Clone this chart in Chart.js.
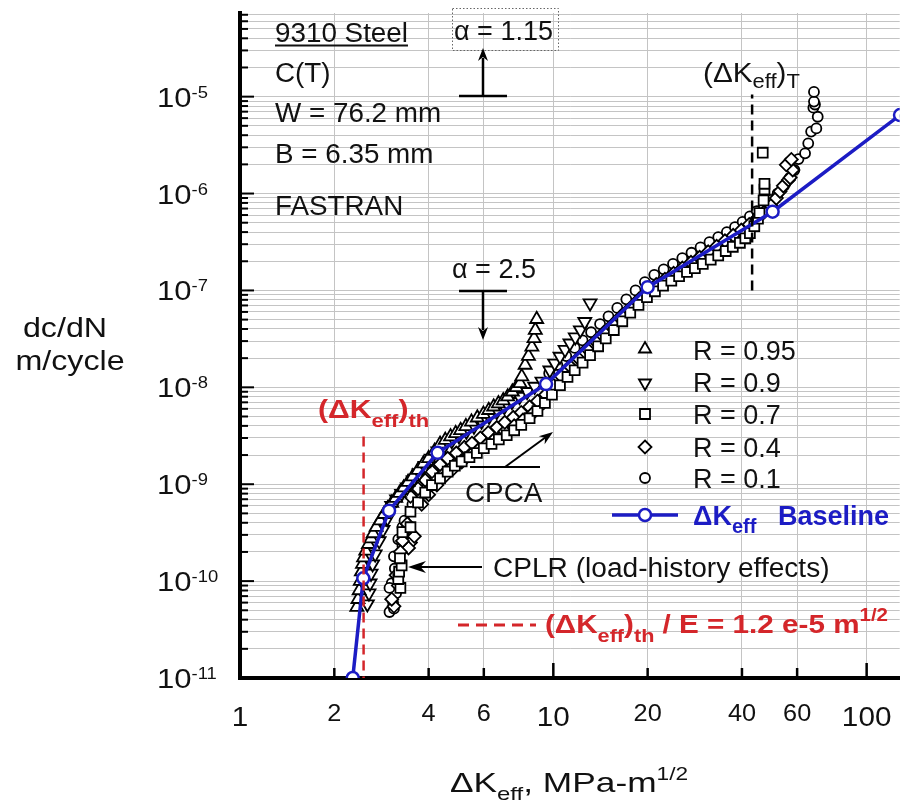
<!DOCTYPE html>
<html lang="en">
<head>
  <meta charset="UTF-8" />
  <title>9310 Steel - dc/dN vs Delta K eff</title>
  <script src="https://cdn.jsdelivr.net/npm/chart.js"></script>
  <style>
    html, body { margin: 0; padding: 0; background: #fff; }
    #wrap { width: 909px; height: 809px; }
  </style>
</head>
<body>
  <div id="wrap"><canvas id="crackChart" width="909" height="809"></canvas></div>

  <script>
    // ---- axes ----
    const xMin = 1, xMax = 127.5;
    const yMin = 1e-11, yMax = 7.3e-5;
    const xGridVals = [2, 4, 6, 10, 20, 40, 60, 100];
    const xLabelVals = [1, 2, 4, 6, 10, 20, 40, 60, 100];
    const xLabels = ['1', '2', '4', '6', '10', '20', '40', '60', '100'];
    const yExponents = [-11, -10, -9, -8, -7, -6, -5];
    const yLabels = ['-11', '-10', '-9', '-8', '-7', '-6', '-5'];

    // ---- FASTRAN baseline (dK eff, dc/dN) ----
    const baseDK = [2.29, 2.475, 2.99, 4.27, 9.48, 20.0, 50.1, 127.8];
    const baseRate = [1.0e-11, 1.07e-10, 5.33e-10, 2.11e-9, 1.08e-8, 1.08e-7, 6.49e-7, 6.46e-6];

    // threshold and transition markers
    const thDK = [2.48, 2.48];
    const thRate = [3.1e-9, 1.0e-11];
    const trDK = [43.1, 43.1];
    const trRate = [1.0e-7, 1.05e-5];

    // ---- test data ----
    const dk95 = [2.36, 2.38, 2.40, 2.42, 2.44, 2.46, 2.48, 2.52, 2.57, 2.62, 2.66, 2.72, 2.80, 2.88, 2.96, 3.05, 3.14,
      3.23, 3.33, 3.44, 3.56, 3.70, 3.85, 4.00, 4.18, 4.35, 4.52, 4.70, 4.88, 5.06, 5.26, 5.48, 5.72, 5.98, 6.22, 6.45,
      6.68, 6.92, 7.15, 7.40, 7.62, 7.83, 7.93, 8.13, 8.33, 8.54, 8.68, 8.76, 8.85];
    const rate95 = [5.4e-11, 6.5e-11, 8.0e-11, 1.0e-10, 1.25e-10, 1.5e-10, 1.75e-10, 2.05e-10, 2.4e-10, 2.75e-10, 3.1e-10,
      3.6e-10, 4.2e-10, 4.9e-10, 5.6e-10, 6.4e-10, 7.2e-10, 8.1e-10, 9.2e-10, 1.05e-9, 1.2e-9, 1.4e-9, 1.63e-9, 1.85e-9,
      2.2e-9, 2.6e-9, 2.85e-9, 3.1e-9, 3.35e-9, 3.6e-9, 3.95e-9, 4.4e-9, 4.85e-9, 5.3e-9, 5.8e-9, 6.3e-9, 6.8e-9, 7.3e-9,
      8.0e-9, 9.0e-9, 1.0e-8, 1.1e-8, 1.29e-8, 1.7e-8, 2.1e-8, 2.62e-8, 3.2e-8, 3.9e-8, 5.04e-8];

    const dk90 = [2.55, 2.58, 2.60, 2.62, 2.65, 2.70, 2.78, 2.86, 2.95, 3.05, 3.16, 3.28, 3.42, 3.57, 3.73, 3.90, 4.08,
      4.28, 4.50, 4.74, 5.00, 5.28, 5.58, 5.90, 6.24, 6.60, 6.98, 7.38, 7.80, 8.25, 8.72, 9.20, 9.75, 10.1, 10.5, 10.9,
      11.3, 11.75, 12.2, 12.6, 13.1];
    const rate90 = [5.8e-11, 7.5e-11, 9.5e-11, 1.2e-10, 1.5e-10, 1.9e-10, 2.6e-10, 3.4e-10, 4.4e-10, 6.0e-10, 7.0e-10,
      8.0e-10, 9.3e-10, 1.1e-9, 1.3e-9, 1.55e-9, 1.85e-9, 2.2e-9, 2.5e-9, 2.8e-9, 3.15e-9, 3.5e-9, 3.95e-9, 4.45e-9,
      5.0e-9, 5.6e-9, 6.3e-9, 7.1e-9, 8.0e-9, 9.0e-9, 1.02e-8, 1.15e-8, 1.5e-8, 1.77e-8, 2.08e-8, 2.45e-8, 2.85e-8,
      3.3e-8, 3.9e-8, 4.75e-8, 7.4e-8];

    const dk70 = [3.25, 3.20, 3.22, 3.28, 3.24, 3.30, 3.50, 3.50, 3.70, 3.90, 4.10, 4.35, 4.60, 4.85, 5.10, 5.40, 5.70,
      6.00, 6.35, 6.70, 7.10, 7.50, 7.90, 8.40, 8.90, 9.40, 9.90, 10.5, 11.1, 11.7, 12.4, 13.1, 13.9, 14.7, 15.6, 16.6,
      17.6, 18.7, 19.9, 21.1, 22.4, 23.8, 25.2, 26.7, 28.3, 30.0, 31.8, 33.6, 35.5, 37.4, 39.4, 41.0, 42.4, 43.8, 45.0,
      45.5, 46.9, 47.2, 47.2, 46.6];
    const rate70 = [8.5e-11, 1.05e-10, 1.25e-10, 1.45e-10, 1.72e-10, 3.2e-10, 3.6e-10, 5.2e-10, 6.5e-10, 8.2e-10, 9.8e-10,
      1.15e-9, 1.35e-9, 1.55e-9, 1.72e-9, 1.9e-9, 2.1e-9, 2.35e-9, 2.6e-9, 2.9e-9, 3.2e-9, 3.6e-9, 4.1e-9, 4.8e-9,
      5.7e-9, 6.9e-9, 8.4e-9, 1.05e-8, 1.28e-8, 1.5e-8, 1.8e-8, 2.15e-8, 2.65e-8, 3.2e-8, 3.9e-8, 4.8e-8, 5.9e-8,
      7.1e-8, 8.5e-8, 9.8e-8, 1.12e-7, 1.26e-7, 1.4e-7, 1.55e-7, 1.7e-7, 1.88e-7, 2.08e-7, 2.3e-7, 2.55e-7, 2.82e-7,
      3.1e-7, 3.45e-7, 3.9e-7, 4.6e-7, 5.5e-7, 6.3e-7, 8.5e-7, 1.1e-6, 1.26e-6, 2.64e-6];

    const dk40 = [3.10, 3.05, 3.20, 3.15, 3.50, 3.60, 3.35, 3.45, 3.30, 3.42, 3.25, 3.50, 3.70, 3.80, 3.90, 4.00, 4.10,
      4.25, 4.35, 4.50, 4.60, 4.80, 4.90, 5.10, 5.20, 5.45, 5.50, 5.80, 5.85, 6.15, 6.20, 6.55, 6.60, 7.00, 7.00, 7.45,
      7.50, 7.90, 8.00, 8.40, 8.60, 8.90, 9.45, 10.0, 10.6, 11.3, 12.0, 12.8, 13.6, 14.5, 15.5, 16.5, 17.6, 18.8, 20.0,
      21.3, 22.7, 24.2, 25.8, 27.5, 29.3, 31.2, 33.2, 35.3, 37.5, 39.8, 42.2, 44.6, 47.0, 49.5, 51.5, 52.9, 54.2, 56.3,
      57.0, 58.1, 55.4, 57.5];
    const rate40 = [5.5e-11, 6.5e-11, 9.0e-11, 1.15e-10, 2.5e-10, 2.9e-10, 3.3e-10, 2.2e-10, 2.6e-10, 3.9e-10, 2.0e-10,
      7.5e-10, 9.0e-10, 6.2e-10, 1.1e-9, 7.8e-10, 1.35e-9, 9.8e-10, 1.6e-9, 1.2e-9, 1.85e-9, 1.45e-9, 2.1e-9, 1.7e-9,
      2.4e-9, 2.0e-9, 2.65e-9, 2.3e-9, 3.0e-9, 2.6e-9, 3.4e-9, 3.0e-9, 3.85e-9, 3.5e-9, 4.35e-9, 4.9e-9, 4.0e-9,
      5.5e-9, 4.6e-9, 6.3e-9, 5.4e-9, 7.2e-9, 8.4e-9, 1.05e-8, 1.3e-8, 1.65e-8, 2.0e-8, 2.5e-8, 3.0e-8, 3.7e-8, 4.5e-8,
      5.5e-8, 6.6e-8, 8.2e-8, 1.0e-7, 1.15e-7, 1.3e-7, 1.5e-7, 1.7e-7, 1.95e-7, 2.2e-7, 2.5e-7, 2.85e-7, 3.25e-7,
      3.7e-7, 4.2e-7, 4.8e-7, 5.5e-7, 6.4e-7, 7.5e-7, 8.97e-7, 1.05e-6, 1.2e-6, 1.38e-6, 1.46e-6, 1.75e-6, 1.98e-6,
      2.25e-6];

    const dk10 = [3.00, 3.08, 3.15, 3.05, 3.12, 3.30, 3.20, 3.40, 3.30, 3.35, 3.45, 3.10, 3.18, 3.00, 3.10, 3.55, 3.75,
      3.95, 4.20, 4.45, 4.75, 5.05, 5.35, 5.70, 6.05, 6.40, 6.80, 7.20, 7.65, 8.10, 8.60, 9.10, 9.70, 10.3, 11.0, 11.7,
      12.4, 13.2, 14.1, 15.0, 16.0, 17.1, 18.3, 19.6, 21.0, 22.5, 24.1, 25.8, 27.6, 29.5, 31.5, 33.6, 35.8, 38.0, 40.2,
      42.4, 44.6, 47.0, 49.5, 52.0, 54.5, 56.8, 58.8, 60.6, 63.6, 65.1, 66.5, 69.1, 69.8, 67.6, 68.4, 67.9, 67.9];
    const rate10 = [4.8e-11, 6.0e-11, 7.5e-11, 9.5e-11, 1.35e-10, 2.3e-10, 2.7e-10, 3.0e-10, 3.6e-10, 4.2e-10, 2.7e-10,
      1.8e-10, 1.1e-10, 8.5e-11, 5.2e-11, 6.2e-10, 7.7e-10, 9.4e-10, 1.2e-9, 1.4e-9, 1.6e-9, 1.8e-9, 2.05e-9, 2.35e-9,
      2.65e-9, 3.0e-9, 3.4e-9, 3.8e-9, 4.3e-9, 4.9e-9, 5.6e-9, 6.5e-9, 1.4e-8, 1.7e-8, 2.1e-8, 2.55e-8, 3.05e-8,
      3.7e-8, 4.5e-8, 5.4e-8, 6.6e-8, 8.1e-8, 1.0e-7, 1.22e-7, 1.45e-7, 1.65e-7, 1.88e-7, 2.15e-7, 2.45e-7, 2.78e-7,
      3.15e-7, 3.55e-7, 4.0e-7, 4.5e-7, 5.1e-7, 5.8e-7, 6.6e-7, 7.5e-7, 8.6e-7, 1.0e-6, 1.2e-6, 1.45e-6, 1.75e-6,
      2.27e-6, 2.6e-6, 3.3e-6, 4.36e-6, 4.7e-6, 6.2e-6, 7.7e-6, 8.3e-6, 8.9e-6, 1.12e-5];

    const seriesNames = ['R = 0.95', 'R = 0.9', 'R = 0.7', 'R = 0.4', 'R = 0.1'];

    const BLUE = '#1c1cc4';
    const RED = '#d4262a';
    const FONT = 'Arial, "Liberation Sans", sans-serif';

    function pts(xs, ys) {
      return xs.map((x, i) => ({ x: x, y: ys[i] }));
    }

    function setFont(ctx, size, bold) {
      ctx.font = (bold ? 'bold ' : '') + size + 'px ' + FONT;
    }

    // runs: [text, size, bold, dy]
    function richText(ctx, x, y, runs, opts) {
      opts = opts || {};
      const hs = opts.hs || 1;
      let w = 0;
      runs.forEach(r => { setFont(ctx, r[1], r[2]); w += ctx.measureText(r[0]).width * hs; });
      if (opts.align === 'center') x -= w / 2;
      else if (opts.align === 'right') x -= w;
      ctx.fillStyle = opts.color || '#111';
      ctx.textAlign = 'left';
      ctx.textBaseline = 'alphabetic';
      let cx = x;
      runs.forEach(r => {
        setFont(ctx, r[1], r[2]);
        ctx.save();
        ctx.translate(cx, y + (r[3] || 0));
        ctx.scale(hs, 1);
        ctx.fillText(r[0], 0, 0);
        ctx.restore();
        cx += ctx.measureText(r[0]).width * hs;
      });
      return { x0: x, x1: cx };
    }

    function line(ctx, x1, y1, x2, y2, w, color, dash) {
      ctx.save();
      ctx.beginPath();
      ctx.lineWidth = w;
      ctx.strokeStyle = color || '#000';
      ctx.setLineDash(dash || []);
      ctx.moveTo(x1, y1);
      ctx.lineTo(x2, y2);
      ctx.stroke();
      ctx.restore();
    }

    function arrowHead(ctx, x, y, ang, len, half, color) {
      const c = Math.cos(ang), s = Math.sin(ang);
      ctx.save();
      ctx.fillStyle = color || '#000';
      ctx.beginPath();
      ctx.moveTo(x, y);
      ctx.lineTo(x - len * c + half * s, y - len * s - half * c);
      ctx.lineTo(x - len * 0.7 * c, y - len * 0.7 * s);
      ctx.lineTo(x - len * c - half * s, y - len * s + half * c);
      ctx.closePath();
      ctx.fill();
      ctx.restore();
    }

    function legendSymbol(ctx, kind, x, y) {
      ctx.save();
      ctx.strokeStyle = '#000';
      ctx.fillStyle = '#fff';
      ctx.lineWidth = 1.8;
      ctx.beginPath();
      if (kind === 'tri' || kind === 'triDown') {
        const r = 7, d = kind === 'tri' ? 1 : -1;
        ctx.moveTo(x, y - d * r);
        ctx.lineTo(x + r * 0.866, y + d * r * 0.5);
        ctx.lineTo(x - r * 0.866, y + d * r * 0.5);
        ctx.closePath();
      } else if (kind === 'rect') {
        ctx.rect(x - 5, y - 5, 10, 10);
      } else if (kind === 'diamond') {
        ctx.moveTo(x, y - 6.5); ctx.lineTo(x + 6.5, y); ctx.lineTo(x, y + 6.5); ctx.lineTo(x - 6.5, y);
        ctx.closePath();
      } else {
        ctx.arc(x, y, 5, 0, Math.PI * 2);
      }
      ctx.fill();
      ctx.stroke();
      ctx.restore();
    }

    const figureDecor = {
      id: 'figureDecor',
      beforeDatasetsDraw(chart) {
        const ctx = chart.ctx, a = chart.chartArea;
        const xs = chart.scales.x, ys = chart.scales.y;
        // inward tick marks on the y axis
        ys.ticks.forEach(t => {
          const lg = Math.log10(t.value);
          const major = Math.abs(lg - Math.round(lg)) < 1e-6;
          const y = ys.getPixelForValue(t.value);
          line(ctx, a.left, y, a.left + (major ? 14 : 8), y, 2, '#000');
        });
        // inward tick marks on the x axis
        xGridVals.forEach(v => {
          const x = xs.getPixelForValue(v);
          const major = v === 10 || v === 100;
          line(ctx, x, a.bottom, x, a.bottom - (major ? 15 : 10), 2.5, '#000');
        });
      },
      afterDraw(chart) {
        const ctx = chart.ctx;
        const xs = chart.scales.x, ys = chart.scales.y;

        // y tick labels 10^n
        yExponents.forEach((e, i) => {
          const y = ys.getPixelForValue(Math.pow(10, e));
          richText(ctx, 157, y + 10, [['10', 27], [yLabels[i], 16, false, -9]], { hs: 1.15, color: '#111' });
        });
        // x tick labels
        xLabelVals.forEach((v, i) => {
          const x = xs.getPixelForValue(v);
          const major = v === 1 || v === 10 || v === 100;
          richText(ctx, x, major ? 726 : 721, [[xLabels[i], major ? 27 : 23]], { align: 'center', hs: 1.1 });
        });

        // axis titles
        richText(ctx, 569, 792, [['\u0394K', 28], ['eff', 19, false, 8], [', MPa-m', 28], ['1/2', 18, false, -12]],
          { align: 'center', hs: 1.26 });
        richText(ctx, 65, 337, [['dc/dN', 28]], { align: 'center', hs: 1.15 });
        richText(ctx, 70, 370, [['m/cycle', 28]], { align: 'center', hs: 1.15 });

        // specimen block
        const st = richText(ctx, 275, 42, [['9310 Steel', 27]], { hs: 1.03 });
        line(ctx, st.x0, 45.5, st.x1, 45.5, 2, '#111');
        richText(ctx, 275, 82, [['C(T)', 27]], { hs: 1.03 });
        richText(ctx, 275, 122, [['W = 76.2 mm', 27]], { hs: 1.03 });
        richText(ctx, 275, 163, [['B = 6.35 mm', 27]], { hs: 1.03 });
        richText(ctx, 275, 215, [['FASTRAN', 27]], { hs: 1.03 });

        // alpha = 1.15 with dotted box and up arrow
        ctx.save();
        ctx.strokeStyle = '#666';
        ctx.lineWidth = 1;
        ctx.setLineDash([1.5, 2]);
        ctx.strokeRect(452.5, 8.5, 106, 42);
        ctx.restore();
        richText(ctx, 454, 40, [['\u03b1 = 1.15', 27]], { hs: 1.0 });
        line(ctx, 459, 96, 507, 96, 2.5);
        line(ctx, 483, 96, 483, 58, 2.5);
        arrowHead(ctx, 483, 48, -Math.PI / 2, 13, 5);

        // alpha = 2.5 with down arrow
        richText(ctx, 452, 278, [['\u03b1 = 2.5', 27]], { hs: 1.0 });
        line(ctx, 459, 291, 507, 291, 2.5);
        line(ctx, 483, 291, 483, 330, 2.5);
        arrowHead(ctx, 483, 340, Math.PI / 2, 13, 5);

        // (dKeff)T label
        richText(ctx, 703, 82, [['(\u0394K', 27], ['eff', 20, false, 6], [')', 27], ['T', 20, false, 6]], { hs: 1.1 });

        // threshold label
        richText(ctx, 318, 418, [['(\u0394K', 26, true], ['eff', 19, true, 9], [')', 26, true], ['th', 19, true, 9]],
          { hs: 1.16, color: RED });

        // CPCA
        line(ctx, 470, 467, 540, 467, 2);
        line(ctx, 505, 467, 546, 437, 2);
        arrowHead(ctx, 553, 432, Math.atan2(-35, 48), 14, 5);
        richText(ctx, 465, 502, [['CPCA', 27]], { hs: 1.03 });

        // CPLR
        line(ctx, 482, 567, 420, 567, 2);
        arrowHead(ctx, 408, 567, Math.PI, 18, 6);
        richText(ctx, 493, 577, [['CPLR (load-history effects)', 27]], { hs: 1.04 });

        // threshold definition
        line(ctx, 458, 625, 536, 625, 3, RED, [11, 7]);
        richText(ctx, 545, 633, [['(\u0394K', 26, true], ['eff', 19, true, 9], [')', 26, true], ['th', 19, true, 9],
          [' / E = 1.2 e-5 m', 26, true], ['1/2', 18, true, -12]], { hs: 1.14, color: RED });

        // legend
        const kinds = ['tri', 'triDown', 'rect', 'diamond', 'circle'];
        const symY = [349, 383, 414, 447, 478];
        const txtY = [360, 392, 424, 457, 488];
        kinds.forEach((k, i) => {
          legendSymbol(ctx, k, 645, symY[i]);
          richText(ctx, 693, txtY[i], [[seriesNames[i], 27]]);
        });
        line(ctx, 612, 515, 678, 515, 3.5, BLUE);
        ctx.save();
        ctx.beginPath();
        ctx.arc(645, 515, 6, 0, Math.PI * 2);
        ctx.fillStyle = '#fff';
        ctx.fill();
        ctx.lineWidth = 2.5;
        ctx.strokeStyle = BLUE;
        ctx.stroke();
        ctx.restore();
        richText(ctx, 693, 525, [['\u0394K', 27, true], ['eff', 20, true, 8]], { color: BLUE });
        richText(ctx, 778, 525, [['Baseline', 27, true]], { color: BLUE });
      }
    };

    function markerSet(label, xs, ys, style, radius, rotation, order) {
      return {
        label: label,
        data: pts(xs, ys),
        showLine: false,
        pointStyle: style,
        pointRadius: radius,
        pointRotation: rotation,
        pointBorderColor: '#000',
        pointBackgroundColor: '#fff',
        pointBorderWidth: 1.8,
        order: order
      };
    }

    const ctx = document.getElementById('crackChart').getContext('2d');
    new Chart(ctx, {
      type: 'scatter',
      data: {
        datasets: [
          {
            label: 'threshold',
            data: pts(thDK, thRate),
            showLine: true,
            borderColor: RED,
            borderWidth: 2.5,
            borderDash: [10, 6],
            pointRadius: 0,
            order: 0
          },
          {
            label: 'transition',
            data: pts(trDK, trRate),
            showLine: true,
            borderColor: '#000',
            borderWidth: 2.5,
            borderDash: [10, 6],
            pointRadius: 0,
            order: 1
          },
          {
            label: 'Baseline',
            data: pts(baseDK, baseRate),
            showLine: true,
            borderColor: BLUE,
            borderWidth: 3.5,
            pointStyle: 'circle',
            pointRadius: 6,
            pointBorderWidth: 2.5,
            pointBorderColor: BLUE,
            pointBackgroundColor: '#fff',
            order: 2
          },
          markerSet(seriesNames[0], dk95, rate95, 'triangle', 7.5, 0, 3),
          markerSet(seriesNames[1], dk90, rate90, 'triangle', 7.5, 180, 4),
          markerSet(seriesNames[2], dk70, rate70, 'rect', 7, 0, 5),
          markerSet(seriesNames[3], dk40, rate40, 'rectRot', 6.5, 0, 6),
          markerSet(seriesNames[4], dk10, rate10, 'circle', 5, 0, 7)
        ]
      },
      options: {
        responsive: false,
        animation: false,
        events: [],
        layout: { padding: { left: 240, top: 13, right: 1, bottom: 131 } },
        plugins: { legend: { display: false }, tooltip: { enabled: false } },
        scales: {
          x: {
            type: 'logarithmic',
            min: xMin,
            max: xMax,
            bounds: 'data',
            afterBuildTicks: s => { s.ticks = xGridVals.map(v => ({ value: v })); },
            ticks: { display: false },
            grid: { color: '#c4c4c4', lineWidth: 1, drawTicks: false },
            border: { display: true, color: '#000', width: 4 }
          },
          y: {
            type: 'logarithmic',
            min: yMin,
            max: yMax,
            bounds: 'data',
            afterBuildTicks: s => {
              const t = [];
              yExponents.concat([-4]).forEach(e => {
                for (let m = 1; m <= 9; m++) {
                  const v = m * Math.pow(10, e);
                  if (v >= yMin * 0.999 && v <= yMax) t.push({ value: v });
                }
              });
              s.ticks = t;
            },
            ticks: { display: false },
            grid: { color: '#c4c4c4', lineWidth: 1, drawTicks: false },
            border: { display: true, color: '#000', width: 4 }
          }
        }
      },
      plugins: [figureDecor]
    });
  </script>
</body>
</html>
